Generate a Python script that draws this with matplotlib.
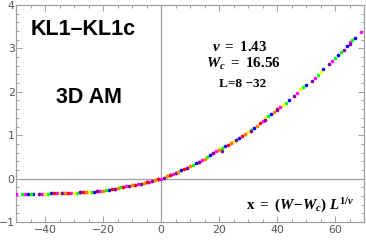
import matplotlib
matplotlib.use("Agg")
import matplotlib.pyplot as plt
from matplotlib.ticker import MultipleLocator

# dados (colapso de escala, uma série por tamanho L)
x_mag = [-50, -47, -41, -36, -31, -26, -21, -16, -12, -8, -4, 0, 4, 9, 14, 19, 24, 29, 35, 41, 47, 53, 59, 65, 69]
y_mag = [-0.35, -0.35, -0.345, -0.34, -0.33, -0.315, -0.285, -0.23, -0.18, -0.13, -0.07, 0.0, 0.10, 0.25, 0.42,
         0.63, 0.82, 1.02, 1.33, 1.65, 1.98, 2.32, 2.72, 3.14, 3.37]
x_blu = [-46, -44, -38, -33, -28, -23, -18, -13, -9, -5, -1, 3, 7, 12, 17, 22, 27, 32, 38, 44, 50, 56, 61, 64, 67]
y_blu = [-0.35, -0.35, -0.34, -0.335, -0.32, -0.30, -0.255, -0.19, -0.14, -0.085, -0.02, 0.075, 0.19, 0.35, 0.54,
         0.74, 0.94, 1.17, 1.49, 1.80, 2.16, 2.52, 2.85, 3.06, 3.24]
x_grn = [-48, -45, -39, -34, -29, -24, -19, -14, -10, -6, -2, 2, 6, 11, 16, 21, 26, 31, 37, 43, 49, 54, 60, 62, 66]
y_grn = [-0.35, -0.35, -0.345, -0.335, -0.325, -0.305, -0.27, -0.20, -0.15, -0.10, -0.035, 0.05, 0.16, 0.315,
         0.50, 0.705, 0.90, 1.11, 1.435, 1.745, 2.105, 2.39, 2.78, 2.91, 3.20]
x_yel = [-40, -35, -30, -25, -20, -15, -11, -7, -3, 1, 5, 10, 15, 20, 25, 30, 36, 42, 48, 55]
y_yel = [-0.345, -0.34, -0.33, -0.31, -0.28, -0.215, -0.165, -0.115, -0.05, 0.025, 0.13, 0.28, 0.46, 0.68,
         0.87, 1.07, 1.39, 1.70, 2.06, 2.46]
x_red = [-37, -32, -27, -22, -17, -13, -9, -5, -1, 3, 8, 13, 18, 23, 28, 34, 40]
y_red = [-0.34, -0.33, -0.32, -0.295, -0.24, -0.19, -0.14, -0.085, -0.02, 0.075, 0.22, 0.385, 0.59, 0.78,
         0.98, 1.28, 1.60]
x_pur = [-42, -34, -28, -22, -16, -11, -7, -3, 1, 5, 9, 13, 18, 21, 26, 31, 36, 40, 46, 52, 58, 63, 65]
y_pur = [-0.345, -0.335, -0.32, -0.295, -0.23, -0.165, -0.115, -0.05, 0.025, 0.13, 0.25, 0.385, 0.58, 0.64,
         0.90, 1.10, 1.36, 1.58, 1.90, 2.26, 2.63, 2.96, 3.11]
x_ora = [-33, -26, -20, -15, -10, -6, -2, 2, 6, 10, 15, 20, 24, 29, 33, 39]
y_ora = [-0.335, -0.315, -0.28, -0.215, -0.15, -0.10, -0.035, 0.05, 0.16, 0.28, 0.46, 0.67, 0.82, 1.02, 1.22, 1.54]

series = [
    (x_mag, y_mag, "#ff00ff"),
    (x_blu, y_blu, "#0000ff"),
    (x_grn, y_grn, "#00ff00"),
    (x_yel, y_yel, "#ffff00"),
    (x_red, y_red, "#ff0000"),
    (x_pur, y_pur, "#8000a0"),
    (x_ora, y_ora, "#ff8000"),
]

plt.rcParams["mathtext.fontset"] = "custom"
plt.rcParams["mathtext.rm"] = "Liberation Serif:bold"
plt.rcParams["mathtext.it"] = "Liberation Serif:italic:bold"
plt.rcParams["mathtext.bf"] = "Liberation Serif:bold"

fig = plt.figure(figsize=(3.66, 2.40), dpi=100)
ax = fig.add_axes([16 / 366, 18 / 240, 348 / 366, 217 / 240])

cinza = "#a0a0a0"
ax.axhline(0, color=cinza, lw=0.9, zorder=1)
ax.axvline(0, color=cinza, lw=0.9, zorder=1)

for xs, ys, cor in series:
    ax.plot(xs, ys, "o", color=cor, ms=2.6, mew=0, zorder=3)

ax.set_xlim(-50, 70)
ax.set_ylim(-1, 4)
ax.xaxis.set_major_locator(MultipleLocator(20))
ax.xaxis.set_minor_locator(MultipleLocator(5))
ax.yaxis.set_major_locator(MultipleLocator(1))
ax.yaxis.set_minor_locator(MultipleLocator(0.2))
ax.tick_params(which="both", direction="in", top=True, right=True, color=cinza,
               labelcolor="#555555", labelsize=7.8, width=0.7, pad=2)
ax.tick_params(axis="y", which="major", pad=1)
ax.tick_params(which="major", length=4)
ax.tick_params(which="minor", length=2)
for sp in ax.spines.values():
    sp.set_color(cinza)
    sp.set_linewidth(0.9)

fonte_sans = ["Liberation Sans", "DejaVu Sans"]
ax.text(-27, 3.43, "KL1–KL1c", fontsize=15.5, fontweight="bold", family=fonte_sans,
        ha="center", va="center")
ax.text(-25, 1.87, "3D AM", fontsize=15.5, fontweight="bold", family=fonte_sans,
        ha="center", va="center")

ax.text(27.2, 3.04, r"$\nu\ =\ 1.43$", fontsize=10.8, ha="center", va="center")
ax.text(28.3, 2.64, r"$W_c\ =\ 16.56$", fontsize=10.8, ha="center", va="center")
ax.text(28, 2.19, "L=8 −32", fontsize=9.5, fontweight="bold", family=["Liberation Serif"],
        ha="center", va="center")
ax.text(48, -0.64, r"$\mathbf{x}\ =\ (W\!-\!W_c)\ L^{1/\nu}$", fontsize=10.8, ha="center", va="center")

fig.savefig("out.png", dpi=100)
